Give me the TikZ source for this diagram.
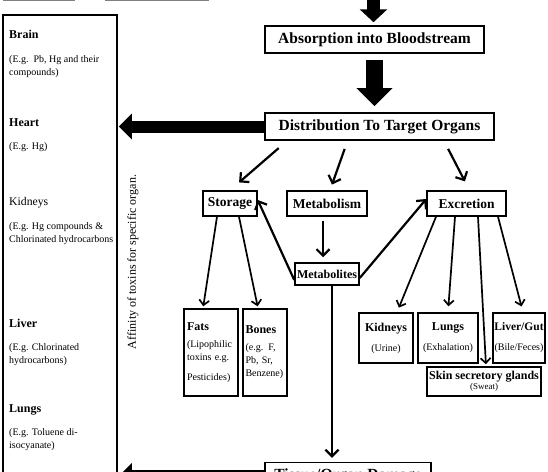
\documentclass[tikz,border=0pt]{standalone}
\usepackage{fontspec}
\setmainfont{Liberation Serif}
\usetikzlibrary{arrows.meta, positioning, calc}

\newcommand{\headfont}{\fontsize{15.5}{18}\selectfont\bfseries}
\newcommand{\boxfont}{\fontsize{13.5}{16}\selectfont\bfseries}
\newcommand{\subhead}{\fontsize{12}{14}\selectfont\bfseries}
\newcommand{\notefont}{\fontsize{10}{13}\selectfont}

\tikzset{
  box/.style={draw, line width=1.5pt, inner sep=1pt, align=center},
  organtext/.style={anchor=west, inner sep=0pt, align=left},
  thinarrow/.style={line width=2.2pt, -{Straight Barb[length=6.5pt,width=13pt]}},
  feedline/.style={line width=1.7pt, -{Straight Barb[length=5pt,width=10pt]}},
}

\begin{document}
\begin{tikzpicture}[x=1pt, y=-1pt]
\useasboundingbox (0,0) rectangle (548,471);
\clip (0,0) rectangle (548,471);

% Partial boxes above
\node[draw=gray, line width=1pt, minimum width=71pt, minimum height=21pt] (prevA) at (38.5,-10) {};
\node[draw=gray, line width=1pt, minimum width=103pt, minimum height=21pt] (prevB) at (156.5,-10) {};
\coordinate (intake) at (373.5,-20);

% Main flow
\node[box, minimum width=219pt, minimum height=27pt, font=\headfont] (absorb) at (374.5,39.5) {Absorption into Bloodstream};
\node[box, line width=1.8pt, minimum width=229pt, minimum height=27pt, font=\headfont] (distrib) at (379.5,126.5) {Distribution To Target Organs};
\node[box, minimum width=54pt, minimum height=25pt, font=\boxfont] (storage) at (230,203.5) {Storage};
\node[box, minimum width=80pt, minimum height=25pt, font=\boxfont] (metabolism) at (327,203.5) {Metabolism};
\node[box, minimum width=79pt, minimum height=25pt, font=\boxfont] (excretion) at (466.5,203.5) {Excretion};
\node[box, minimum width=64pt, minimum height=22pt, font=\subhead] (metabolites) at (327,274) {Metabolites};
\node[box, minimum width=166pt, minimum height=27pt, font=\headfont] (tissue) at (348,476) {Tissue/Organ Damage};

% Storage sites
\node[box, minimum width=54pt, minimum height=87pt, text width=48pt, align=left] (fats) at (211,352.5)
  {{\subhead Fats}\\[4pt]\notefont (Lipophilic\\ toxins e.g.\\[8pt] Pesticides)};
\node[box, minimum width=44pt, minimum height=87pt, text width=39pt, align=left] (bones) at (265,352.5)
  {{\subhead Bones}\\[4pt]\notefont (e.g. F,\\ Pb, Sr,\\ Benzene)\\[10pt]};

% Excretion routes
\node[box, minimum width=54pt, minimum height=50pt] (kidneys) at (386,338) {{\subhead Kidneys}\\[8pt]\notefont (Urine)};
\node[box, minimum width=60pt, minimum height=50pt] (lungs) at (448,338) {{\subhead Lungs}\\[8pt]\notefont (Exhalation)};
\node[box, minimum width=52pt, minimum height=50pt] (livergut) at (519,338) {{\fontsize{11.5}{14}\selectfont\bfseries Liver/Gut}\\[8pt]\notefont (Bile/Feces)};
\node[box, minimum width=114pt, minimum height=29pt] (skin) at (484,381.5) {{\subhead Skin secretory glands}\\[-2pt]{\fontsize{9}{11}\selectfont (Sweat)}};

% Target organs panel
\node[draw, line width=1.5pt, minimum width=114pt, minimum height=545pt] (organs) at (60,287.5) {};
\node[organtext, font=\subhead] (brainhead) at (9,34) {Brain};
\node[organtext, font=\notefont] (braintext) at (9,66.5) {(E.g.\ \ Pb, Hg and their\\ compounds)};
\node[organtext, font=\subhead] (hearthead) at (9,123) {Heart};
\node[organtext, font=\notefont] (hearttext) at (9,147) {(E.g. Hg)};
\node[organtext, font=\fontsize{11.7}{14}\selectfont] (kidneyhead) at (9,203) {Kidneys};
\node[organtext, font=\notefont] (kidneytext) at (9,233.5) {(E.g. Hg compounds \&\\ Chlorinated hydrocarbons};
\node[organtext, font=\subhead] (liverhead) at (9,323) {Liver};
\node[organtext, font=\notefont] (livertext) at (9,354.5) {(E.g. Chlorinated\\ hydrocarbons)};
\node[organtext, font=\subhead] (lunghead) at (9,410) {Lungs};
\node[organtext, font=\notefont] (lungtext) at (9,440) {(E.g. Toluene di-\\ isocyanate)};
\node[rotate=90, font=\fontsize{12}{14}\selectfont] (affinity) at (133,262) {Affinity of toxins for specific organ.};

% Block arrows
\draw[line width=13pt, -{Triangle[length=13pt,width=27pt]}, shorten >=3pt] (intake) -- (intake |- absorb.north);
\draw[line width=17pt, -{Triangle[length=18pt,width=35pt]}, shorten <=6pt, shorten >=6pt] (absorb.south) -- (absorb.south |- distrib.north);
\draw[line width=12pt, -{Triangle[length=13pt,width=25pt]}, shorten >=1pt] (distrib.west) -- (organs.east |- distrib.west);
\draw[line width=12pt, -{Triangle[length=13pt,width=25pt]}, shorten >=1pt] (tissue.west) -- (organs.east |- tissue.west);

% Distribution paths
\draw[thinarrow, shorten <=11pt, shorten >=12pt] ([xshift=-92.5pt]distrib.south) -- (storage.north);
\draw[thinarrow, shorten <=8.5pt, shorten >=6pt] ([xshift=-32pt]distrib.south) -- ([xshift=3pt]metabolism.north);
\draw[thinarrow, shorten <=9pt, shorten >=10pt] ([xshift=64.5pt]distrib.south) -- ([xshift=3pt]excretion.north);
\draw[thinarrow, shorten <=4pt, shorten >=5pt] ([xshift=-4pt]metabolism.south) -- ([xshift=-4pt]metabolites.north);
\draw[thinarrow] ([yshift=-6pt]metabolites.west) -- ([yshift=3.5pt]storage.east);
\draw[thinarrow] ([yshift=-4pt]metabolites.east) -- ([yshift=4.5pt]excretion.west);
\draw[thinarrow, shorten >=4pt] ([xshift=5pt]metabolites.south) -- ([xshift=5pt]metabolites.south |- tissue.north);

% Storage and excretion branches
\draw[feedline, shorten >=2pt] ([xshift=-13pt]storage.south) -- ([xshift=-8pt]fats.north);
\draw[feedline, shorten >=2pt] ([xshift=9pt]storage.south) -- ([xshift=-7pt]bones.north);
\draw[feedline, shorten >=5pt] ([xshift=-30.5pt]excretion.south) -- ([xshift=11pt]kidneys.north);
\draw[feedline, shorten >=6pt] ([xshift=-11.5pt]excretion.south) -- (lungs.north);
\draw[feedline, shorten >=2pt] ([xshift=11.5pt]excretion.south) -- ([xshift=2pt]skin.north);
\draw[feedline, shorten >=6pt] ([xshift=31.5pt]excretion.south) -- ([xshift=4pt]livergut.north);
\end{tikzpicture}
\end{document}
